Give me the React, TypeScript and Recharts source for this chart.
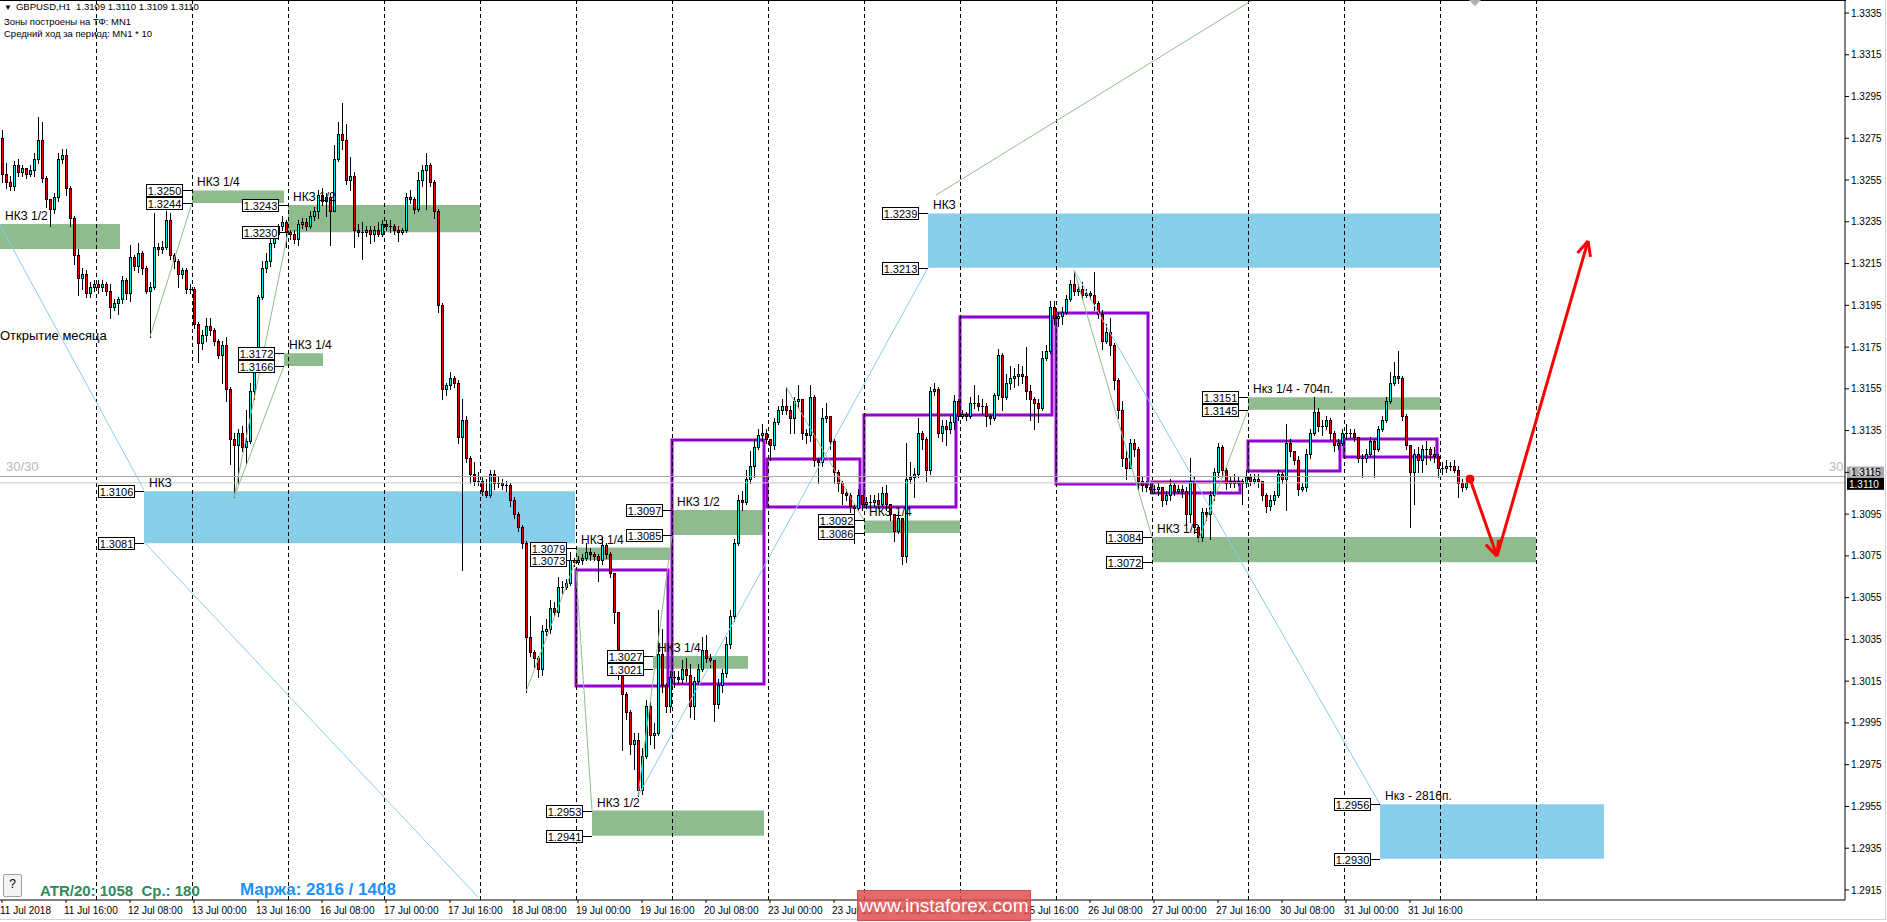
import React from "react";
import {
  Bar,
  ComposedChart,
  ReferenceArea,
  ReferenceDot,
  ReferenceLine,
  XAxis,
  YAxis,
} from "recharts";

// GBPUSD H1, prices in pips (1.3258 -> 13258). open = previous close
const firstOpen = 13275;
const closes = [
  13258, 13254, 13252, 13262, 13259, 13261, 13258, 13260, 13265, 13274,
  13256, 13246, 13241, 13247, 13265, 13267, 13251, 13237, 13219, 13208,
  13210, 13201, 13204, 13205, 13204, 13205, 13202, 13194, 13196, 13198,
  13207, 13201, 13218, 13214, 13220, 13213, 13202, 13204, 13223, 13222,
  13223, 13236, 13219, 13216, 13210, 13212, 13203, 13203, 13186, 13177,
  13181, 13185, 13183, 13178, 13171, 13176, 13155, 13131, 13128, 13134,
  13127, 13130, 13154, 13167, 13199, 13213, 13216, 13225, 13229, 13233,
  13235, 13230, 13229, 13227, 13234, 13235, 13233, 13238, 13240, 13248,
  13245, 13247, 13240, 13265, 13277, 13274, 13255, 13257, 13231, 13230,
  13230, 13231, 13229, 13231, 13229, 13234, 13233, 13233, 13231, 13230,
  13231, 13247, 13246, 13241, 13255, 13260, 13262, 13254, 13240, 13195,
  13155, 13157, 13160, 13158, 13132, 13140, 13122, 13114, 13111, 13111,
  13106, 13104, 13114, 13110, 13110, 13109, 13109, 13102, 13095, 13089,
  13081, 13036, 13029, 13026, 13021, 13039, 13040, 13050, 13048, 13060,
  13060, 13062, 13073, 13072, 13073, 13074, 13077, 13076, 13075, 13073,
  13080, 13076, 13067, 13048, 13018, 13009, 13000, 12985, 12987, 12963,
  12979, 13003, 12989, 12990, 13028, 13013, 13003, 13017, 13017, 13016,
  13021, 13018, 13003, 13015, 13021, 13030, 13026, 13025, 13004, 13013,
  13019, 13033, 13046, 13081, 13102, 13101, 13112, 13118, 13127, 13133,
  13134, 13131, 13128, 13139, 13145, 13147, 13145, 13141, 13149, 13150,
  13134, 13133, 13151, 13121, 13120, 13141, 13142, 13130, 13115, 13110,
  13105, 13104, 13099, 13098, 13104, 13100, 13101, 13101, 13102, 13100,
  13105, 13100, 13095, 13087, 13093, 13075, 13112, 13113, 13114, 13134,
  13131, 13116, 13154, 13155, 13134, 13137, 13136, 13139, 13149, 13142,
  13143, 13142, 13148, 13148, 13147, 13147, 13142, 13141, 13152, 13171,
  13151, 13158, 13160, 13161, 13162, 13161, 13154, 13150, 13148, 13146,
  13170, 13173, 13194, 13189, 13190, 13192, 13198, 13205, 13202, 13203,
  13200, 13201, 13200, 13196, 13191, 13178, 13182, 13176, 13159, 13145,
  13122, 13117, 13129, 13126, 13111, 13109, 13108, 13107, 13107, 13108,
  13102, 13104, 13109, 13106, 13107, 13106, 13095, 13111, 13089, 13084,
  13096, 13095, 13104, 13115, 13127, 13116, 13110, 13111, 13110, 13111,
  13110, 13113, 13111, 13112, 13111, 13104, 13099, 13102, 13104, 13114,
  13112, 13129, 13125, 13121, 13107, 13108, 13124, 13134, 13144, 13137,
  13137, 13140, 13134, 13128, 13129, 13134, 13134, 13134, 13132, 13122,
  13122, 13124, 13130, 13126, 13136, 13140, 13149, 13158, 13161, 13160,
  13142, 13128, 13115, 13124, 13121, 13126, 13126, 13124, 13123, 13117,
  13117, 13118, 13118, 13116, 13110, 13108, 13110,
];
const highs = [
  13279, 13263, 13257, 13264, 13265, 13262, 13261, 13262, 13268, 13285,
  13283, 13257, 13246, 13249, 13268, 13270, 13270, 13252, 13238, 13222,
  13213, 13212, 13206, 13207, 13207, 13207, 13206, 13205, 13198, 13199,
  13209, 13208, 13224, 13219, 13225, 13221, 13214, 13206, 13239, 13225,
  13226, 13240, 13239, 13220, 13217, 13213, 13213, 13205, 13204, 13187,
  13183, 13189, 13189, 13184, 13179, 13178, 13180, 13156, 13134, 13136,
  13137, 13145, 13158, 13172, 13200, 13216, 13220, 13227, 13231, 13234,
  13238, 13236, 13231, 13231, 13236, 13237, 13237, 13240, 13242, 13250,
  13251, 13249, 13249, 13272, 13283, 13292, 13282, 13266, 13259, 13234,
  13235, 13233, 13233, 13233, 13235, 13236, 13236, 13236, 13234, 13233,
  13232, 13249, 13250, 13247, 13259, 13262, 13268, 13263, 13255, 13241,
  13196, 13158, 13163, 13161, 13159, 13150, 13142, 13123, 13120, 13115,
  13113, 13112, 13116, 13116, 13113, 13112, 13111, 13110, 13103, 13096,
  13090, 13082, 13046, 13030, 13027, 13042, 13045, 13054, 13053, 13065,
  13063, 13064, 13077, 13074, 13075, 13076, 13081, 13079, 13077, 13076,
  13084, 13081, 13077, 13067, 13048, 13019, 13010, 13001, 12990, 12990,
  12983, 13006, 13005, 12995, 13049, 13040, 13014, 13020, 13020, 13020,
  13025, 13026, 13023, 13017, 13023, 13036, 13037, 13028, 13025, 13016,
  13021, 13036, 13049, 13083, 13104, 13106, 13116, 13125, 13131, 13136,
  13138, 13136, 13130, 13141, 13147, 13150, 13156, 13147, 13151, 13157,
  13145, 13136, 13157, 13152, 13122, 13146, 13148, 13142, 13131, 13116,
  13111, 13107, 13105, 13100, 13107, 13104, 13103, 13104, 13104, 13105,
  13108, 13109, 13099, 13095, 13096, 13093, 13129, 13120, 13117, 13141,
  13135, 13132, 13156, 13158, 13156, 13140, 13140, 13142, 13152, 13150,
  13145, 13144, 13151, 13157, 13152, 13150, 13148, 13143, 13153, 13174,
  13172, 13162, 13166, 13165, 13167, 13166, 13175, 13157, 13151, 13150,
  13173, 13176, 13197, 13197, 13192, 13194, 13200, 13207, 13212, 13205,
  13206, 13203, 13202, 13211, 13197, 13193, 13186, 13189, 13177, 13160,
  13149, 13125, 13131, 13131, 13127, 13113, 13111, 13110, 13109, 13110,
  13108, 13106, 13112, 13110, 13109, 13109, 13108, 13122, 13113, 13090,
  13098, 13098, 13106, 13117, 13129, 13128, 13117, 13113, 13114, 13113,
  13112, 13116, 13114, 13114, 13114, 13111, 13105, 13104, 13106, 13116,
  13115, 13138, 13131, 13125, 13123, 13110, 13126, 13136, 13151, 13146,
  13140, 13142, 13141, 13135, 13131, 13136, 13138, 13136, 13136, 13132,
  13124, 13126, 13132, 13131, 13137, 13142, 13151, 13163, 13168, 13173,
  13161, 13143, 13128, 13126, 13127, 13128, 13130, 13127, 13127, 13124,
  13120, 13121, 13120, 13121, 13118, 13112, 13111,
];
const lows = [
  13254, 13251, 13250, 13250, 13257, 13257, 13256, 13257, 13257, 13263,
  13254, 13242, 13233, 13239, 13245, 13263, 13248, 13233, 13215, 13200,
  13203, 13199, 13199, 13202, 13201, 13202, 13200, 13189, 13193, 13191,
  13196, 13198, 13197, 13212, 13211, 13210, 13201, 13180, 13203, 13219,
  13220, 13222, 13217, 13213, 13204, 13208, 13201, 13201, 13184, 13168,
  13174, 13178, 13181, 13176, 13170, 13158, 13149, 13119, 13103, 13110,
  13125, 13119, 13129, 13150, 13163, 13198, 13211, 13214, 13223, 13227,
  13231, 13223, 13227, 13225, 13224, 13232, 13231, 13232, 13236, 13237,
  13243, 13238, 13224, 13240, 13264, 13270, 13253, 13250, 13223, 13228,
  13217, 13228, 13225, 13226, 13228, 13228, 13231, 13230, 13229, 13226,
  13229, 13230, 13244, 13239, 13240, 13252, 13241, 13252, 13237, 13192,
  13150, 13152, 13155, 13156, 13129, 13068, 13120, 13110, 13109, 13109,
  13104, 13103, 13103, 13107, 13108, 13107, 13106, 13099, 13093, 13087,
  13079, 13010, 13027, 13022, 13017, 13018, 13037, 13038, 13046, 13046,
  13057, 13059, 13061, 13070, 13071, 13071, 13073, 13073, 13073, 13063,
  13071, 13074, 13065, 13043, 13016, 12982, 12997, 12980, 12973, 12960,
  12961, 12978, 12985, 12983, 12989, 13010, 13000, 13000, 13012, 13014,
  13014, 13015, 12998, 12997, 13013, 13020, 13024, 13022, 12996, 13002,
  13010, 13017, 13031, 13044, 13080, 13097, 13100, 13110, 13113, 13126,
  13130, 13129, 13121, 13126, 13138, 13143, 13143, 13134, 13134, 13146,
  13131, 13129, 13130, 13118, 13110, 13118, 13139, 13126, 13110, 13106,
  13100, 13102, 13096, 13081, 13097, 13097, 13098, 13098, 13099, 13098,
  13099, 13097, 13092, 13082, 13086, 13071, 13072, 13110, 13103, 13113,
  13126, 13111, 13114, 13152, 13132, 13130, 13128, 13134, 13136, 13140,
  13141, 13140, 13141, 13146, 13145, 13143, 13137, 13138, 13140, 13150,
  13145, 13150, 13155, 13156, 13157, 13158, 13150, 13140, 13136, 13139,
  13145, 13169, 13172, 13186, 13185, 13186, 13191, 13197, 13200, 13200,
  13198, 13199, 13198, 13193, 13189, 13174, 13177, 13171, 13155, 13141,
  13118, 13112, 13117, 13123, 13107, 13106, 13106, 13105, 13105, 13104,
  13099, 13100, 13102, 13104, 13105, 13103, 13090, 13091, 13086, 13082,
  13082, 13092, 13083, 13102, 13113, 13113, 13107, 13108, 13108, 13109,
  13100, 13108, 13109, 13110, 13108, 13102, 13096, 13097, 13100, 13103,
  13110, 13097, 13123, 13119, 13104, 13106, 13106, 13122, 13133, 13135,
  13133, 13136, 13131, 13125, 13126, 13128, 13131, 13132, 13130, 13120,
  13113, 13120, 13123, 13113, 13125, 13135, 13139, 13148, 13157, 13158,
  13140, 13126, 13089, 13100, 13115, 13115, 13119, 13121, 13120, 13113,
  13114, 13115, 13116, 13115, 13103, 13106, 13107,
];

const timeLabels = [
  "11 Jul 2018", "11 Jul 16:00", "12 Jul 08:00", "13 Jul 00:00", "13 Jul 16:00",
  "16 Jul 08:00", "17 Jul 00:00", "17 Jul 16:00", "18 Jul 08:00", "19 Jul 00:00",
  "19 Jul 16:00", "20 Jul 08:00", "23 Jul 00:00", "23 Jul 16:00", "24 Jul 08:00",
  "25 Jul 00:00", "25 Jul 16:00", "26 Jul 08:00", "27 Jul 00:00", "27 Jul 16:00",
  "30 Jul 08:00", "31 Jul 00:00", "31 Jul 16:00",
];
const timeTicks = timeLabels.map((_, k) => k * 16);
const priceTicks = [
  1.2915, 1.2935, 1.2955, 1.2975, 1.2995, 1.3015, 1.3035, 1.3055, 1.3075, 1.3095,
  1.3115, 1.3135, 1.3155, 1.3175, 1.3195, 1.3215, 1.3235, 1.3255, 1.3275, 1.3295,
  1.3315, 1.3335,
];
const daySeparators = [24, 48, 72, 96, 120, 144, 168, 192, 216, 240, 264, 288, 312, 336, 360, 384];

// zones: bar range and price range
const zones = [
  { text: "НКЗ 1/2", x1: -0.5, x2: 29.5, lo: 1.3222, hi: 1.3234, blue: false, tags: false },
  { text: "НКЗ 1/4", x1: 47.5, x2: 70.5, lo: 1.3244, hi: 1.325, blue: false, tags: true },
  { text: "НКЗ 1/2", x1: 71.5, x2: 119.5, lo: 1.323, hi: 1.3243, blue: false, tags: true },
  { text: "НКЗ 1/4", x1: 70.5, x2: 80.25, lo: 1.3166, hi: 1.3172, blue: false, tags: true },
  { text: "НКЗ", x1: 35.5, x2: 143.25, lo: 1.3081, hi: 1.3106, blue: true, tags: true },
  { text: "НКЗ 1/4", x1: 143.5, x2: 167, lo: 1.3073, hi: 1.3079, blue: false, tags: true },
  { text: "НКЗ 1/2", x1: 167.5, x2: 190.5, lo: 1.3085, hi: 1.3097, blue: false, tags: true },
  { text: "НКЗ 1/4", x1: 162.75, x2: 186.5, lo: 1.3021, hi: 1.3027, blue: false, tags: true },
  { text: "НКЗ 1/2", x1: 147.5, x2: 190.5, lo: 1.2941, hi: 1.2953, blue: false, tags: true },
  { text: "НКЗ 1/4", x1: 215.5, x2: 239.5, lo: 1.3086, hi: 1.3092, blue: false, tags: true },
  { text: "НКЗ", x1: 231.5, x2: 359.5, lo: 1.3213, hi: 1.3239, blue: true, tags: true },
  { text: "НКЗ 1/2", x1: 287.5, x2: 383.5, lo: 1.3072, hi: 1.3084, blue: false, tags: true },
  { text: "Нкз 1/4 - 704п.", x1: 311.5, x2: 359.5, lo: 1.3145, hi: 1.3151, blue: false, tags: true },
  { text: "Нкз - 2816п.", x1: 344.5, x2: 400.5, lo: 1.293, hi: 1.2956, blue: true, tags: true },
];

// daily boxes [x1, x2, low, high]
const dayBoxes = [
  [143.5, 166.5, 1.30127, 1.30682],
  [167.5, 190.5, 1.30136, 1.31305],
  [191.25, 214.5, 1.30984, 1.31214],
  [215.5, 238.5, 1.30984, 1.31425],
  [239.5, 262.5, 1.31425, 1.31894],
  [263.5, 286.5, 1.31094, 1.31913],
  [287.5, 309.5, 1.31051, 1.31104],
  [311.5, 334.5, 1.31157, 1.313],
  [335.5, 358.75, 1.31224, 1.3131],
];

const blueLines = [
  [[-0.5, 1.32335], [35.5, 1.31066]],
  [[35.5, 1.30817], [119, 1.29116]],
  [[159, 1.296], [231.5, 1.3213]],
  [[268, 1.3212], [344.5, 1.2956]],
];
const greenLines = [
  [[233.5, 1.32478], [312.5, 1.33411]],
  [[37, 1.318], [47.5, 1.3244]],
  [[58, 1.3103], [70.5, 1.3166]],
  [[58, 1.3103], [71.5, 1.323]],
  [[131, 1.301], [143.5, 1.3073]],
  [[143.5, 1.30682], [147.5, 1.2953]],
  [[159, 1.296], [167.5, 1.3085]],
  [[196, 1.3156], [215.5, 1.3092]],
  [[268, 1.3212], [287.5, 1.3084]],
  [[299, 1.3082], [311.5, 1.3145]],
];
const forecast = [
  [[367, 1.31118], [373.75, 1.30749]],
  [[373.75, 1.30749], [396.5, 1.32258]],
  [[373.75, 1.30749], [374.15, 1.30826]],
  [[373.75, 1.30749], [370.95, 1.30804]],
  [[396.5, 1.32258], [393.875, 1.32201]],
  [[396.5, 1.32258], [397.125, 1.32182]],
];
const askPrice = 1.3113;
const bidPrice = 1.311;

const p = (v: number) => v / 10000;
const rows = closes.map((c, i) => {
  const o = i === 0 ? firstOpen : closes[i - 1];
  const h = Math.max(highs[i], o, c);
  const l = Math.min(lows[i], o, c);
  return { i, o: p(o), h: p(h), l: p(l), c: p(c), range: [p(l), p(h)] };
});

function Candle(props: any) {
  const { x, y, width, height, payload } = props;
  if (!payload) return null;
  const { o, h, l, c } = payload;
  const top = Math.min(y, y + height);
  const bot = Math.max(y, y + height);
  const k = (bot - top) / (h - l || 1);
  const py = (v: number) => top + (h - v) * k;
  const cx = Math.round(x + width / 2);
  const bt = Math.round(py(Math.max(o, c)));
  const bb = Math.round(py(Math.min(o, c)));
  return (
    <g>
      <line x1={cx + 0.5} x2={cx + 0.5} y1={Math.round(top)} y2={Math.round(bot) + 1} stroke="#000" />
      {bb - bt < 2 ? (
        <line x1={cx - 1} x2={cx + 2} y1={bt + 0.5} y2={bt + 0.5} stroke="#000" />
      ) : (
        <rect x={cx - 0.5} y={bt + 0.5} width={2} height={bb - bt} fill={c >= o ? "#00F0F0" : "#E80000"} stroke="#000" />
      )}
    </g>
  );
}

function PriceTag(props: any) {
  const { cx, cy, value } = props;
  const r = Math.round(cx) - 9;
  const yy = Math.round(cy);
  return (
    <g>
      <line x1={r} x2={cx} y1={yy + 0.5} y2={yy + 0.5} stroke="#000" />
      <rect x={r - 36.5} y={yy - 5.5} width={36} height={12} fill="#fff" stroke="#000" />
      <text x={r - 18.5} y={yy + 4.5} fontSize={11} textAnchor="middle" fill="#000">
        {value.toFixed(4)}
      </text>
    </g>
  );
}

function ZoneText(props: any) {
  const { cx, cy, text } = props;
  return (
    <text x={cx + 5} y={cy - 4} fontSize={12} fill="#000">
      {text}
    </text>
  );
}

function TimeTick(props: any) {
  const { x, y, payload } = props;
  return (
    <text x={x - 2} y={y + 9} fontSize={10} fill="#000" textAnchor="start">
      {timeLabels[Math.round(payload.value / 16)]}
    </text>
  );
}

const txt: React.CSSProperties = { position: "absolute", whiteSpace: "nowrap", lineHeight: "12px" };

export default function App() {
  return (
    <div
      style={{
        position: "fixed",
        left: 0,
        top: 0,
        width: 1887,
        height: 922,
        background: "#fff",
        fontFamily: "'Liberation Sans', Arial, sans-serif",
        overflow: "hidden",
      }}
    >
      <ComposedChart width={1887} height={922} data={rows} margin={{ top: 0, right: 0, bottom: 0, left: 0 }}>
        <XAxis
          dataKey="i"
          type="number"
          domain={[-0.5, 460.75]}
          allowDataOverflow
          ticks={timeTicks}
          interval={0}
          height={22}
          tickSize={3}
          tickLine={{ stroke: "#000" }}
          axisLine={{ stroke: "#000" }}
          tick={<TimeTick />}
        />
        <YAxis
          orientation="right"
          type="number"
          domain={[1.291019, 1.334123]}
          allowDataOverflow
          ticks={priceTicks}
          interval={0}
          width={42}
          tickSize={4}
          tickMargin={2}
          tickFormatter={(v: number) => v.toFixed(4)}
          tick={{ fontSize: 10, fill: "#000" }}
          tickLine={{ stroke: "#000" }}
          axisLine={{ stroke: "#000" }}
        />

        {zones.map((z, n) => (
          <ReferenceArea
            key={"z" + n}
            x1={z.x1}
            x2={z.x2}
            y1={z.lo}
            y2={z.hi}
            fill={z.blue ? "#87CEEB" : "#8FBC8F"}
            fillOpacity={1}
            stroke="none"
            ifOverflow="visible"
          />
        ))}

        {daySeparators.map((d) => (
          <ReferenceLine key={"d" + d} x={d - 0.375} stroke="#000" strokeDasharray="4 3" />
        ))}

        <ReferenceLine y={askPrice} stroke="#A8A8A8" label={(lp: any) => {
          const vb = lp.viewBox || {};
          return (
            <g>
              <text x={vb.x + 6} y={vb.y - 6} fontSize={13} fill="#B8B8B8">30/30</text>
              <text x={vb.x + vb.width - 16} y={vb.y - 6} fontSize={13} fill="#B8B8B8">30</text>
              <rect x={vb.x + vb.width + 2} y={vb.y - 10} width={37} height={11} fill="#A8A8A8" />
              <text x={vb.x + vb.width + 4} y={vb.y - 1} fontSize={10} fill="#fff">{askPrice.toFixed(4)}</text>
            </g>
          );
        }} />
        <ReferenceLine y={bidPrice} stroke="#C8C8C8" label={(lp: any) => {
          const vb = lp.viewBox || {};
          return (
            <g>
              <rect x={vb.x + vb.width + 2} y={vb.y - 5} width={37} height={12} fill="#000" />
              <text x={vb.x + vb.width + 4} y={vb.y + 5} fontSize={10} fill="#fff">{bidPrice.toFixed(4)}</text>
            </g>
          );
        }} />

        {blueLines.map((s, n) => (
          <ReferenceLine key={"b" + n} segment={[{ x: s[0][0], y: s[0][1] }, { x: s[1][0], y: s[1][1] }]} stroke="#87CEEB" ifOverflow="visible" />
        ))}
        {greenLines.map((s, n) => (
          <ReferenceLine key={"g" + n} segment={[{ x: s[0][0], y: s[0][1] }, { x: s[1][0], y: s[1][1] }]} stroke="#8FBC8F" ifOverflow="visible" />
        ))}

        {dayBoxes.map((b, n) => (
          <ReferenceArea
            key={"r" + n}
            x1={b[0]}
            x2={b[1]}
            y1={b[2]}
            y2={b[3]}
            fill="none"
            fillOpacity={0}
            stroke="#9400D3"
            strokeWidth={3}
            ifOverflow="visible"
          />
        ))}

        {zones.map((z, n) => (
          <ReferenceDot key={"t" + n} x={z.x1} y={z.hi} ifOverflow="visible" shape={(sp: any) => <ZoneText {...sp} text={z.text} />} />
        ))}
        {zones.filter((z) => z.tags).flatMap((z, n) => [
          <ReferenceDot key={"ph" + n} x={z.x1} y={z.hi} ifOverflow="visible" shape={(sp: any) => <PriceTag {...sp} value={z.hi} />} />,
          <ReferenceDot key={"pl" + n} x={z.x1} y={z.lo} ifOverflow="visible" shape={(sp: any) => <PriceTag {...sp} value={z.lo} />} />,
        ])}

        <Bar dataKey="range" barSize={3} isAnimationActive={false} shape={<Candle />} />

        {forecast.map((s, n) => (
          <ReferenceLine key={"f" + n} segment={[{ x: s[0][0], y: s[0][1] }, { x: s[1][0], y: s[1][1] }]} stroke="#FF0000" strokeWidth={3} ifOverflow="visible" />
        ))}
        <ReferenceDot x={forecast[0][0][0]} y={forecast[0][0][1]} r={4} fill="#FF0000" stroke="#FF0000" />
      </ComposedChart>

      <div style={{ position: "absolute", left: 0, top: 0, width: 1846, height: 1, background: "#000" }} />
      <div style={{ position: "absolute", left: 1885, top: 0, width: 1, height: 920, background: "#D0D0D0" }} />
      <div style={{ position: "absolute", left: 0, top: 919, width: 1886, height: 1, background: "#D0D0D0" }} />
      <div style={{ position: "absolute", left: 1469, top: 0, width: 0, height: 0, borderLeft: "6px solid transparent", borderRight: "6px solid transparent", borderTop: "6px solid #B0B0B0" }} />

      <div style={{ ...txt, left: 4, top: 1, fontSize: 9.5, color: "#000" }}>
        <span style={{ fontSize: 8, marginRight: 4 }}>▼</span>GBPUSD,H1&nbsp; 1.3109 1.3110 1.3109 1.3110
      </div>
      <div style={{ ...txt, left: 4, top: 16, fontSize: 9.5, color: "#000" }}>Зоны построены на ТФ: MN1</div>
      <div style={{ ...txt, left: 4, top: 28, fontSize: 9.5, color: "#000" }}>Средний ход за период: MN1 * 10</div>
      <div style={{ ...txt, left: 0, top: 328, fontSize: 13, lineHeight: "15px", color: "#000" }}>Открытие месяца</div>

      <div style={{ position: "absolute", left: 3, top: 874, width: 17, height: 21, border: "1px solid #A0A0A0", background: "#F4F4F4", borderRadius: 2, fontSize: 12, textAlign: "center", lineHeight: "19px" }}>?</div>
      <div style={{ ...txt, left: 40, top: 882, fontSize: 15, lineHeight: "17px", fontWeight: 700, color: "#2E8B57" }}>ATR/20: 1058&nbsp; Ср.: 180</div>
      <div style={{ ...txt, left: 240, top: 880, fontSize: 17, lineHeight: "19px", fontWeight: 700, color: "#1E90FF" }}>Маржа: 2816 / 1408</div>

      <div style={{ position: "absolute", left: 857, top: 890, width: 174, height: 31, background: "rgba(222, 80, 80, 0.85)", border: "1px solid #C85050", boxSizing: "border-box", color: "#fff", fontSize: 19, lineHeight: "29px", textAlign: "center" }}>
        www.instaforex.com
      </div>
    </div>
  );
}
